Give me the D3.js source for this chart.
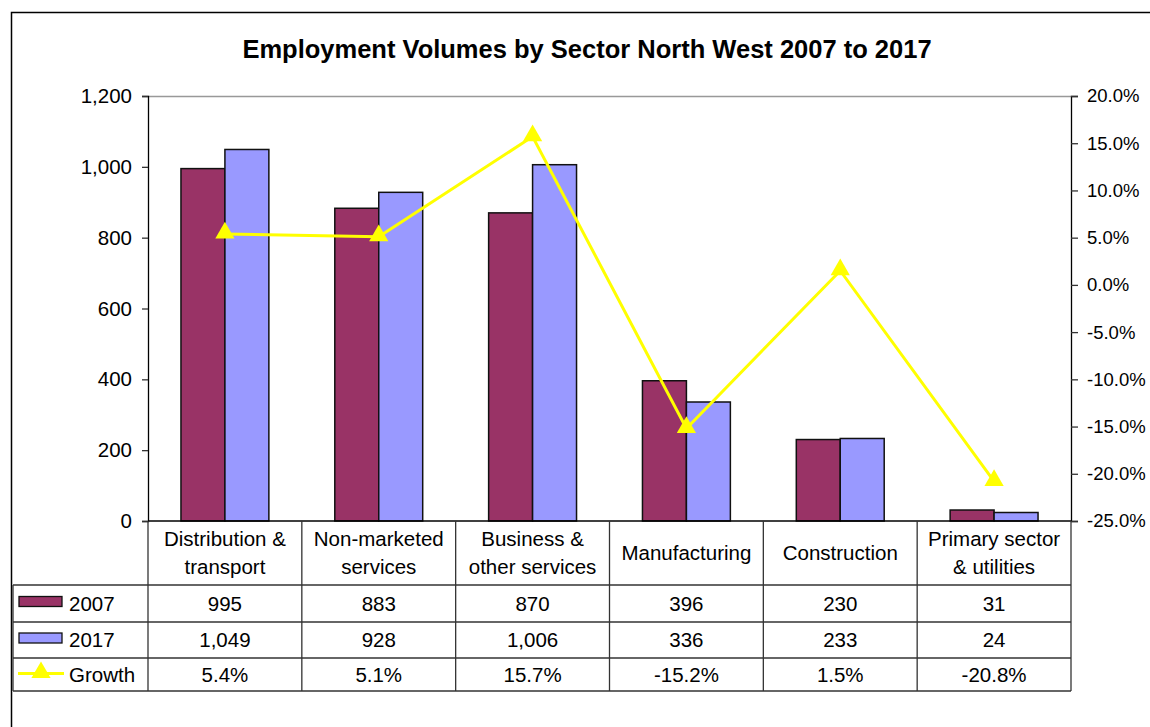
<!DOCTYPE html>
<html>
<head>
<meta charset="utf-8">
<script src="https://cdn.jsdelivr.net/npm/d3@7"></script>
<style>
  html, body { margin: 0; padding: 0; background: #fff; }
  svg { display: block; font-family: "Liberation Sans", Arial, sans-serif; }
</style>
</head>
<body>
<svg id="chart" width="1150" height="727"></svg>
<script>
// Employment (thousands) by sector, North West
const categories = [
  ["Distribution &", "transport"],
  ["Non-marketed", "services"],
  ["Business &", "other services"],
  ["Manufacturing"],
  ["Construction"],
  ["Primary sector", "& utilities"]
];
const values2007 = [995, 883, 870, 396, 230, 31];
const values2017 = [1049, 928, 1006, 336, 233, 24];
const growth = [0.054, 0.051, 0.157, -0.152, 0.015, -0.208];
const leftTicks = [0, 200, 400, 600, 800, 1000, 1200];
const rightTicks = [-0.25, -0.20, -0.15, -0.10, -0.05, 0, 0.05, 0.10, 0.15, 0.20];
const seriesNames = ["2007", "2017", "Growth"];
const colors = { "2007": "#993366", "2017": "#9999FF", "Growth": "#FFFF00" };

const FS = 20.5;
const svg = d3.select("#chart");
const plot = { left: 148, right: 1071, top: 96, bottom: 521 };
const rowLines = [585, 622, 658, 691];

const locale = d3.formatLocale({ decimal: ".", thousands: ",", grouping: [3], currency: ["£", ""], minus: "-" });
const fmtInt = locale.format(",");
const fmtPct = locale.format(".1%");

const keys = categories.map((c, i) => i);
const x = d3.scaleBand().domain(keys).range([plot.left, plot.right]);
const xSub = d3.scaleBand().domain(["2007", "2017"]).range([0, x.bandwidth()])
  .paddingInner(0).paddingOuter(0.75);
const y = d3.scaleLinear().domain([0, 1200]).range([plot.bottom, plot.top]);
const y2 = d3.scaleLinear().domain([-0.25, 0.20]).range([plot.bottom, plot.top]);

// chart frame (left and top edges visible)
svg.append("path")
  .attr("d", `M11.5,740 V12.5 H1160`)
  .attr("fill", "none").attr("stroke", "#000").attr("stroke-width", 1.5);

// title
svg.append("text")
  .attr("x", 587).attr("y", 58)
  .attr("text-anchor", "middle")
  .attr("font-size", 25.5).attr("font-weight", "bold")
  .text("Employment Volumes by Sector North West 2007 to 2017");

// top gridline
svg.append("line")
  .attr("x1", plot.left).attr("x2", plot.right)
  .attr("y1", y(1200) + 0.5).attr("y2", y(1200) + 0.5)
  .attr("stroke", "#999").attr("stroke-width", 1.5);

// bars
const groups = svg.append("g").selectAll("g").data(keys).join("g")
  .attr("transform", d => `translate(${x(d)},0)`);
[["2007", values2007], ["2017", values2017]].forEach(([name, vals]) => {
  groups.append("rect")
    .attr("x", d => xSub(name))
    .attr("width", xSub.bandwidth())
    .attr("y", d => y(vals[d]))
    .attr("height", d => y(0) - y(vals[d]))
    .attr("fill", colors[name])
    .attr("stroke", "#111").attr("stroke-width", 1.5);
});

// left axis
const axL = svg.append("g").attr("transform", `translate(${plot.left},0)`)
  .call(d3.axisLeft(y).tickValues(leftTicks).tickFormat(fmtInt).tickSize(6).tickPadding(10));
// right axis
const axR = svg.append("g").attr("transform", `translate(${plot.right},0)`)
  .call(d3.axisRight(y2).tickValues(rightTicks).tickFormat(fmtPct).tickSize(7).tickPadding(9));
[axL, axR].forEach(a => {
  a.select(".domain").attr("stroke", "#000").attr("stroke-width", 1.3);
  a.selectAll(".tick line").attr("stroke", "#333").attr("stroke-width", 1.3);
  a.selectAll(".tick text").attr("font-size", FS).attr("fill", "#000")
    .attr("font-family", "Liberation Sans, Arial, sans-serif");
});
axR.selectAll(".tick text").attr("font-size", 18.5);

// growth line
const lineGen = d3.line().x(d => x(d) + x.bandwidth() / 2).y(d => y2(growth[d]));
svg.append("path").datum(keys)
  .attr("d", lineGen)
  .attr("fill", "none").attr("stroke", colors.Growth).attr("stroke-width", 3);
const tri = d3.symbol().type(d3.symbolTriangle).size(160);
svg.append("g").selectAll("path").data(keys).join("path")
  .attr("transform", d => `translate(${x(d) + x.bandwidth() / 2},${y2(growth[d]) - 1})`)
  .attr("d", tri).attr("fill", colors.Growth);

// data table grid
const grid = svg.append("g").attr("stroke", "#333").attr("stroke-width", 1.3).attr("fill", "none");
rowLines.forEach(ry => {
  grid.append("line").attr("x1", 13).attr("x2", plot.right).attr("y1", ry).attr("y2", ry);
});
grid.append("line").attr("x1", plot.left).attr("x2", plot.right).attr("y1", plot.bottom).attr("y2", plot.bottom).attr("stroke", "#000");
grid.append("line").attr("x1", 13).attr("x2", 13).attr("y1", rowLines[0]).attr("y2", rowLines[3]);
keys.concat([keys.length]).forEach(i => {
  const bx = i < keys.length ? x(i) : plot.right;
  grid.append("line").attr("x1", bx).attr("x2", bx).attr("y1", plot.bottom).attr("y2", rowLines[3]);
});

// category labels
const catText = svg.append("g").attr("font-size", FS).attr("text-anchor", "middle");
keys.forEach(i => {
  const lines = categories[i];
  const cx = x(i) + x.bandwidth() / 2;
  const mid = (plot.bottom + rowLines[0]) / 2;
  lines.forEach((t, j) => {
    catText.append("text")
      .attr("x", cx)
      .attr("y", mid + (j - (lines.length - 1) / 2) * 28 + 7)
      .text(t);
  });
});

// table values and series keys
const rows = [values2007.map(fmtInt), values2017.map(fmtInt), growth.map(fmtPct)];
rows.forEach((vals, r) => {
  const cy = (rowLines[r] + rowLines[r + 1]) / 2 + 7;
  svg.append("g").attr("font-size", FS).attr("text-anchor", "middle")
    .selectAll("text").data(keys).join("text")
    .attr("x", d => x(d) + x.bandwidth() / 2)
    .attr("y", cy)
    .text(d => vals[d]);
  const key = svg.append("g");
  if (r < 2) {
    key.append("rect").attr("x", 19).attr("y", cy - 14).attr("width", 43).attr("height", 10)
      .attr("fill", colors[seriesNames[r]]).attr("stroke", "#111").attr("stroke-width", 1.3);
  } else {
    key.append("line").attr("x1", 18).attr("x2", 64).attr("y1", cy - 8).attr("y2", cy - 8)
      .attr("stroke", colors.Growth).attr("stroke-width", 3);
    key.append("path").attr("transform", `translate(41,${cy - 9})`).attr("d", tri).attr("fill", colors.Growth);
  }
  key.append("text").attr("x", 69).attr("y", cy).attr("font-size", FS).text(seriesNames[r]);
});
</script>
</body>
</html>
